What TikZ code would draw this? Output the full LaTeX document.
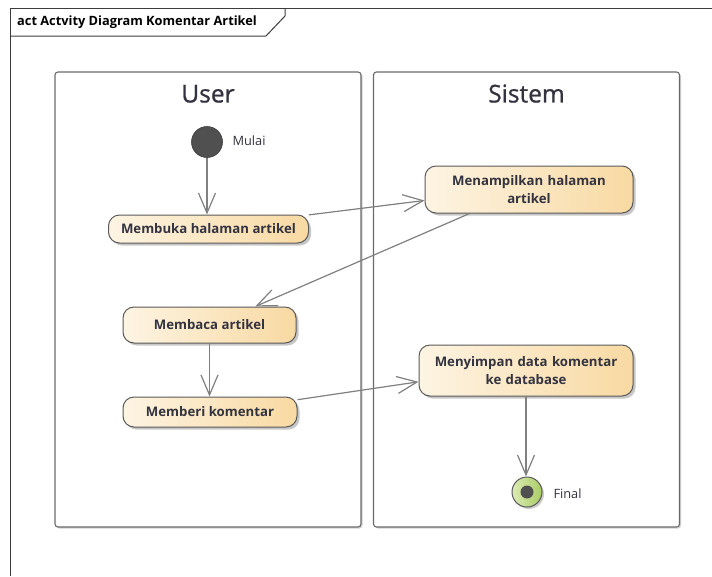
\documentclass[tikz,border=0pt]{standalone}
\usepackage{fontspec}
\setmainfont{Open Sans}
\usetikzlibrary{arrows.meta,shadows,calc}
\definecolor{linegray}{HTML}{808080}
\definecolor{framec}{HTML}{3C3C3C}
\definecolor{lanec}{HTML}{6A6A6A}
\definecolor{actb}{HTML}{5A5A5A}
\definecolor{actl}{HTML}{FDF4E3}
\definecolor{actr}{HTML}{F8D9A2}
\definecolor{txt}{HTML}{33333F}
\definecolor{startc}{HTML}{505050}
\definecolor{greenl}{HTML}{DCEBB4}
\definecolor{greenr}{HTML}{A9CC66}
\begin{document}
\begin{tikzpicture}[x=1pt,y=-1pt,
  lane/.style={draw=lanec, line width=1.1pt, rounded corners=3pt, fill=white,
    drop shadow={shadow xshift=1.5pt, shadow yshift=-1.5pt, fill=black, opacity=0.18},
    inner sep=0pt},
  lanetitle/.style={font=\fontsize{24.5}{28}\selectfont\addfontfeature{FakeBold=0.8}, text=txt, anchor=base},
  act/.style={draw=actb, line width=1pt, rounded corners=11pt, left color=actl, right color=actr,
    drop shadow={shadow xshift=2.5pt, shadow yshift=-2.5pt, fill=black, opacity=0.22},
    font=\bfseries\fontsize{13.2}{17.5}\selectfont, text=txt, align=center, inner sep=0pt},
  flow/.style={draw=linegray, line width=1.2pt, -{Straight Barb[length=20pt,width=17pt,line width=1.2pt]}},
  lbl/.style={font=\fontsize{12.8}{15}\selectfont, text=txt, anchor=west}
]
\useasboundingbox (0,0) rectangle (712,576);
\fill[white] (0,0) rectangle (712,576);
% outer frame
\draw[framec, line width=1pt] (10.5,576) -- (10.5,8) -- (712,8);
\draw[framec, line width=1pt] (10.5,36) -- (266,36) -- (285,16) -- (285,8);
\node[anchor=west, font=\bfseries\fontsize{12.8}{15}\selectfont, text=black, inner sep=0pt] (title) at (17,22.5) {act Actvity Diagram Komentar Artikel};
% lanes
\node[lane, minimum width=306pt, minimum height=455pt] (userlane) at (208,299.5) {};
\node[lane, minimum width=306pt, minimum height=455pt] (sislane) at (526.5,299.5) {};
\node[lanetitle] (usert) at ($(userlane.north)+(0,31)$) {User};
\node[lanetitle] (sist) at ($(sislane.north)+(0,31)$) {Sistem};
% start
\node[circle, fill=startc, draw=framec, line width=0.6pt, minimum size=31pt, inner sep=0pt] (start) at (207,142) {};
\node[lbl] (mulai) at (229,141) {Mulai};
% activities
\node[act, minimum width=200pt, minimum height=28pt] (mb) at (208.5,229) {Membuka halaman artikel};
\node[act, minimum width=208pt, minimum height=47pt, text width=190pt] (mt) at (529,189.5) {Menampilkan halaman\\artikel};
\node[act, minimum width=173pt, minimum height=36pt] (ma) at (209.5,325) {Membaca artikel};
\node[act, minimum width=174pt, minimum height=30pt] (mk) at (210,412) {Memberi komentar};
\node[act, minimum width=214pt, minimum height=51pt, text width=200pt] (ms) at (526,370.5) {Menyimpan data komentar\\ke database};
% final
\node[circle, draw=actb, line width=1pt, left color=greenl, right color=greenr, minimum size=30pt, inner sep=0pt,
  drop shadow={shadow xshift=2pt, shadow yshift=-2pt, fill=black, opacity=0.2}] (fin) at (527,492) {};
\node[circle, fill=startc, minimum size=13pt, inner sep=0pt] (findot) at (fin.center) {};
\node[lbl] (finl) at (550,494) {Final};
% flows
\draw[flow] (start.south) -- (start.south |- mb.north);
\draw[flow] (mb.8) -- (mt.186);
\draw[flow] (mt.202) -- (ma.22);
\draw[flow] (ma.south) -- (ma.south |- mk.north);
\draw[flow] (mk.8) -- (ms.186);
\draw[flow] (ms.south) -- (ms.south |- fin.north);
\end{tikzpicture}
\end{document}
